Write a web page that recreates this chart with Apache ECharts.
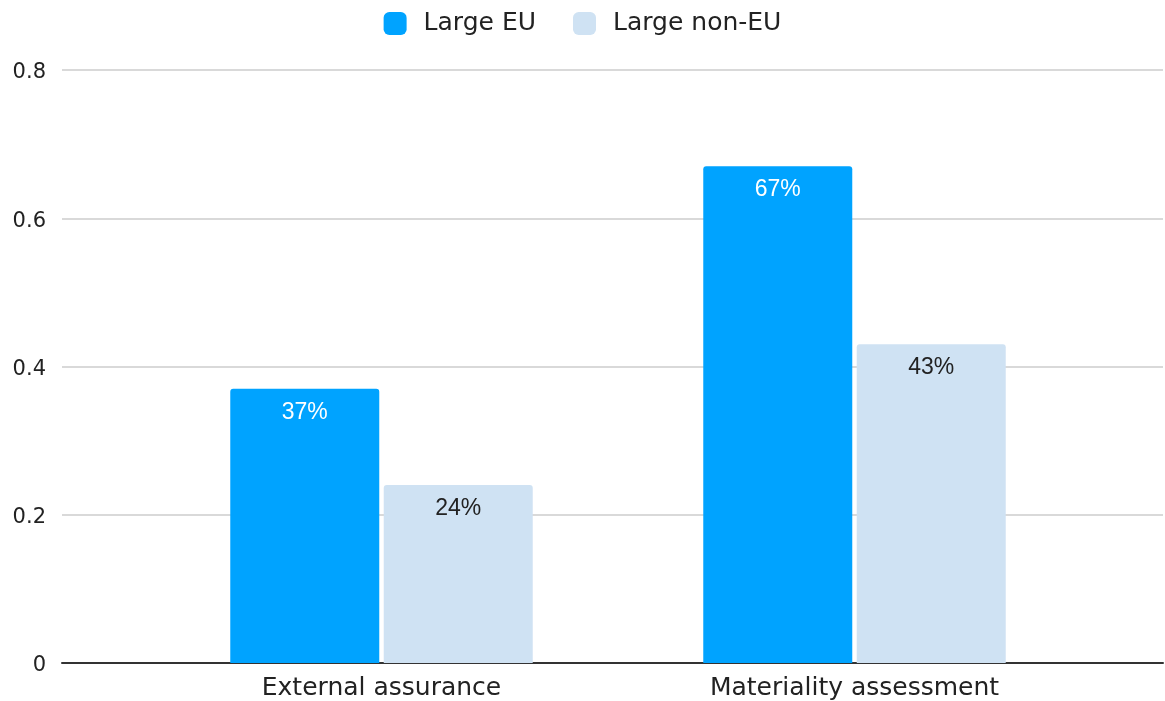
<!DOCTYPE html>
<html>
<head>
<meta charset="utf-8">
<script src="https://cdn.jsdelivr.net/npm/echarts@6/dist/echarts.min.js"></script>
<style>html,body{margin:0;padding:0;background:#fff;}#c{width:1165px;height:701px;}</style>
</head>
<body>
<div id="c"></div>
<script>
var categories = ['External assurance', 'Materiality assessment'];
var seriesNames = ['Large EU', 'Large non-EU'];
var largeEU = [0.37, 0.67];
var largeNonEU = [0.24, 0.43];
var yTicks = { min: 0, max: 0.8, interval: 0.2 };

var chart = echarts.init(document.getElementById('c'), null, { renderer: 'canvas' });
var labelFont = 'Liberation Sans, Arial, sans-serif';
var axisFont = 'DejaVu Sans, Verdana, sans-serif';
function pct(p) { return Math.round(p.value * 100) + '%'; }

chart.setOption({
  animation: false,
  backgroundColor: '#ffffff',
  legend: {
    top: 6,
    left: 'center',
    itemWidth: 23,
    itemHeight: 23,
    itemGap: 37,
    icon: 'roundRect',
    textStyle: { fontFamily: axisFont, fontSize: 25, color: '#222', padding: [0, 0, 0, 12] },
    data: seriesNames
  },
  grid: [
    { left: 62, right: 2, top: 70, bottom: 38 },
    { left: 145, right: 74, top: 70, bottom: 38 }
  ],
  xAxis: [
    { gridIndex: 0, type: 'category', data: [''], axisLine: { lineStyle: { color: '#333', width: 2 } }, axisTick: { show: false }, axisLabel: { show: false } },
    { gridIndex: 1, type: 'category', data: categories, axisLine: { show: false }, axisTick: { show: false },
      axisLabel: { fontFamily: axisFont, fontSize: 25, color: '#222', margin: 13 } }
  ],
  yAxis: [
    { gridIndex: 0, type: 'value', min: yTicks.min, max: yTicks.max, interval: yTicks.interval,
      axisLine: { show: false }, axisTick: { show: false },
      axisLabel: { fontFamily: axisFont, fontSize: 21, color: '#222', margin: 16, verticalAlign: 'top', lineHeight: 6 },
      splitLine: { lineStyle: { color: '#cccccc', width: 1.5 } } },
    { gridIndex: 1, type: 'value', min: yTicks.min, max: yTicks.max, interval: yTicks.interval, show: false, splitLine: { show: false } }
  ],
  series: [
    { name: seriesNames[0], type: 'bar', xAxisIndex: 1, yAxisIndex: 1, data: largeEU, barWidth: 149, barGap: '3%',
      itemStyle: { color: '#00a3ff', borderRadius: [3, 3, 0, 0] },
      label: { show: true, position: 'insideTop', distance: 12, formatter: pct, color: '#ffffff', fontFamily: labelFont, fontSize: 23 } },
    { name: seriesNames[1], type: 'bar', xAxisIndex: 1, yAxisIndex: 1, data: largeNonEU, barWidth: 149,
      itemStyle: { color: '#cfe2f3', borderRadius: [3, 3, 0, 0] },
      label: { show: true, position: 'insideTop', distance: 12, formatter: pct, color: '#222222', fontFamily: labelFont, fontSize: 23 } }
  ]
});
</script>
</body>
</html>
